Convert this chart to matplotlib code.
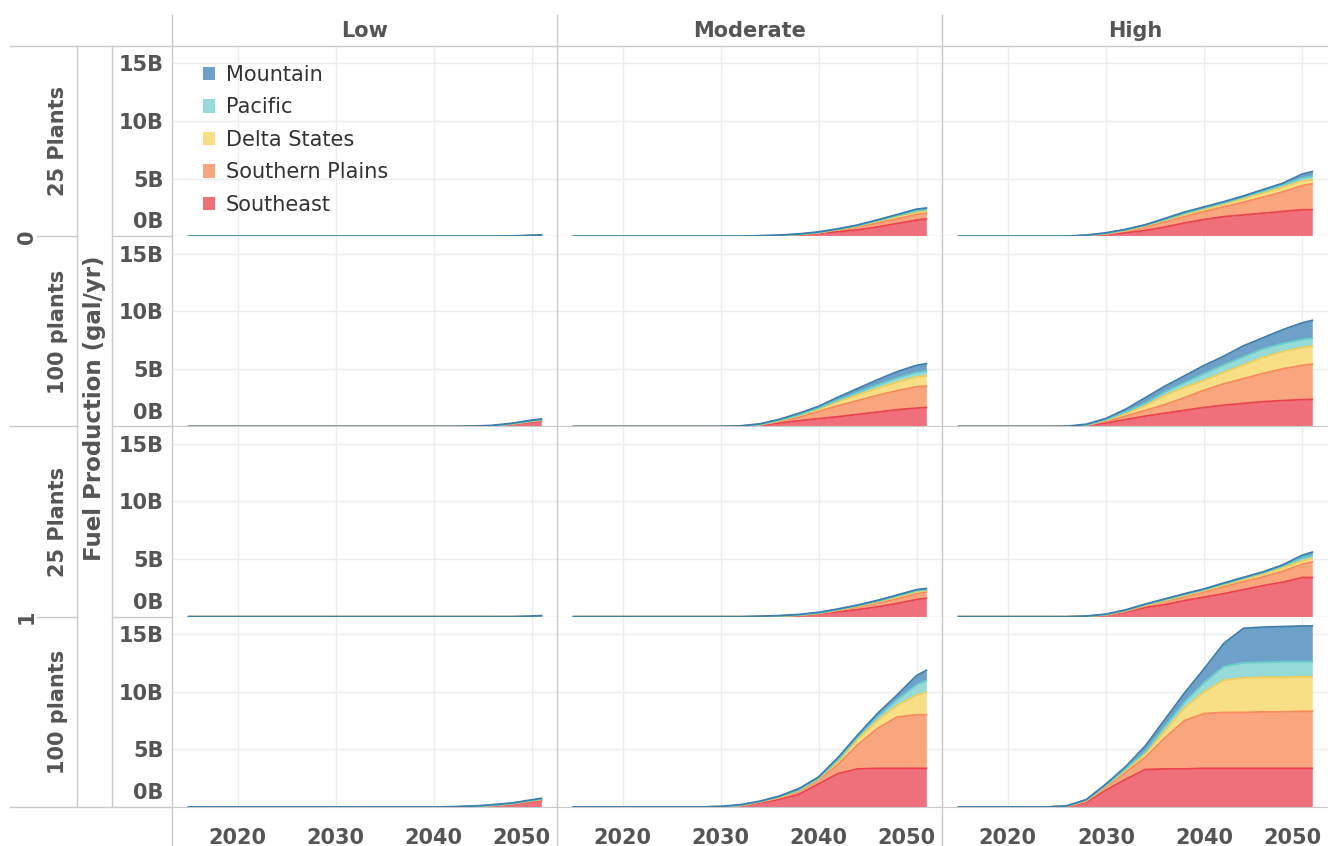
import matplotlib
matplotlib.use("AGG")
import matplotlib.pyplot as plt
import matplotlib.transforms as mtransforms
from matplotlib.lines import Line2D
from matplotlib.patches import Patch
import numpy as np

W, H = 1328, 846

years = [2015, 2024, 2026, 2028, 2030, 2032, 2034, 2036, 2038, 2040, 2042, 2044, 2046, 2048, 2050, 2051]
regions = ["Southeast", "Southern Plains", "Delta States", "Pacific", "Mountain"]
col_names = ["Low", "Moderate", "High"]
outer_names = ["0", "1"]
inner_names = ["25 Plants", "100 plants", "25 Plants", "100 plants"]
y_ticks = [0, 5, 10, 15]
y_labels = ["0B", "5B", "10B", "15B"]
x_ticks = [2020, 2030, 2040, 2050]

# values in billion gal/yr, one list per region: SE, SP, DS, PA, MO
low_0_25 = [
    [0, 0, 0, 0, 0, 0, 0, 0, 0, 0, 0, 0, 0, 0, 0.05, 0.07],
    [0, 0, 0, 0, 0, 0, 0, 0, 0, 0, 0, 0, 0, 0, 0, 0],
    [0, 0, 0, 0, 0, 0, 0, 0, 0, 0, 0, 0, 0, 0, 0, 0],
    [0, 0, 0, 0, 0, 0, 0, 0, 0, 0, 0, 0, 0, 0, 0, 0],
    [0, 0, 0, 0, 0, 0, 0, 0, 0, 0, 0, 0, 0, 0.03, 0.03, 0.05],
]
low_0_100 = [
    [0, 0, 0, 0, 0, 0, 0, 0, 0, 0, 0, 0, 0.05, 0.2, 0.4, 0.5],
    [0, 0, 0, 0, 0, 0, 0, 0, 0, 0, 0, 0, 0, 0.02, 0.05, 0.05],
    [0, 0, 0, 0, 0, 0, 0, 0, 0, 0, 0, 0, 0, 0.01, 0.02, 0.02],
    [0, 0, 0, 0, 0, 0, 0, 0, 0, 0, 0, 0, 0, 0.01, 0.01, 0.01],
    [0, 0, 0, 0, 0, 0, 0, 0, 0, 0, 0, 0.03, 0.05, 0.04, 0.07, 0.07],
]
low_1_25 = [
    [0, 0, 0, 0, 0, 0, 0, 0, 0, 0, 0, 0, 0, 0, 0, 0.05],
    [0, 0, 0, 0, 0, 0, 0, 0, 0, 0, 0, 0, 0, 0, 0, 0],
    [0, 0, 0, 0, 0, 0, 0, 0, 0, 0, 0, 0, 0, 0, 0, 0],
    [0, 0, 0, 0, 0, 0, 0, 0, 0, 0, 0, 0, 0, 0, 0, 0],
    [0, 0, 0, 0, 0, 0, 0, 0, 0, 0, 0, 0, 0, 0, 0.06, 0.05],
]
low_1_100 = [
    [0, 0, 0, 0, 0, 0, 0, 0, 0, 0, 0, 0.03, 0.1, 0.25, 0.48, 0.58],
    [0, 0, 0, 0, 0, 0, 0, 0, 0, 0, 0, 0.01, 0.02, 0.03, 0.04, 0.05],
    [0, 0, 0, 0, 0, 0, 0, 0, 0, 0, 0, 0.01, 0.01, 0.01, 0.03, 0.03],
    [0, 0, 0, 0, 0, 0, 0, 0, 0, 0, 0, 0.01, 0.01, 0.01, 0.02, 0.02],
    [0, 0, 0, 0, 0, 0, 0, 0, 0, 0, 0.03, 0.02, 0.06, 0.05, 0.05, 0.07],
]
mod_0_25 = [
    [0, 0, 0, 0, 0, 0, 0, 0.05, 0.12, 0.25, 0.4, 0.55, 0.8, 1.1, 1.4, 1.5],
    [0, 0, 0, 0, 0, 0, 0, 0.01, 0.03, 0.05, 0.15, 0.25, 0.35, 0.4, 0.5, 0.5],
    [0, 0, 0, 0, 0, 0, 0, 0.01, 0.01, 0.02, 0.05, 0.08, 0.15, 0.2, 0.2, 0.2],
    [0, 0, 0, 0, 0, 0, 0.02, 0.01, 0.01, 0.01, 0.02, 0.04, 0.05, 0.08, 0.1, 0.12],
    [0, 0, 0, 0, 0, 0, 0.03, 0.02, 0.03, 0.05, 0.03, 0.06, 0.07, 0.1, 0.15, 0.13],
]
mod_0_100 = [
    [0, 0, 0, 0, 0, 0.02, 0.08, 0.3, 0.5, 0.68, 0.85, 1.05, 1.25, 1.45, 1.6, 1.65],
    [0, 0, 0, 0, 0, 0.01, 0.04, 0.15, 0.3, 0.62, 0.95, 1.2, 1.45, 1.65, 1.85, 1.85],
    [0, 0, 0, 0, 0, 0, 0.03, 0.05, 0.15, 0.2, 0.35, 0.5, 0.6, 0.75, 0.85, 0.9],
    [0, 0, 0, 0, 0, 0.01, 0.02, 0.05, 0.05, 0.1, 0.15, 0.2, 0.3, 0.35, 0.4, 0.4],
    [0, 0, 0, 0, 0.01, 0.01, 0.06, 0.07, 0.15, 0.15, 0.25, 0.35, 0.45, 0.55, 0.6, 0.65],
]
mod_1_25 = [
    [0, 0, 0, 0, 0, 0, 0, 0.04, 0.1, 0.25, 0.42, 0.62, 0.85, 1.15, 1.5, 1.6],
    [0, 0, 0, 0, 0, 0, 0, 0.01, 0.02, 0.03, 0.13, 0.23, 0.35, 0.4, 0.5, 0.55],
    [0, 0, 0, 0, 0, 0, 0, 0.01, 0.02, 0.02, 0.05, 0.07, 0.1, 0.15, 0.15, 0.1],
    [0, 0, 0, 0, 0, 0, 0.02, 0.01, 0.02, 0.02, 0.03, 0.04, 0.05, 0.08, 0.1, 0.1],
    [0, 0, 0, 0, 0, 0, 0.03, 0.03, 0.04, 0.06, 0.05, 0.06, 0.07, 0.1, 0.1, 0.1],
]
mod_1_100 = [
    [0, 0, 0, 0, 0.02, 0.1, 0.35, 0.65, 1.1, 2.0, 2.9, 3.3, 3.35, 3.35, 3.35, 3.35],
    [0, 0, 0, 0, 0.01, 0.02, 0.07, 0.15, 0.25, 0.35, 0.8, 2.1, 3.45, 4.45, 4.65, 4.65],
    [0, 0, 0, 0, 0, 0.01, 0.03, 0.05, 0.07, 0.1, 0.25, 0.5, 0.7, 1.0, 1.7, 1.95],
    [0, 0, 0, 0, 0.01, 0.01, 0.02, 0.05, 0.05, 0.05, 0.15, 0.2, 0.3, 0.5, 0.9, 1.0],
    [0, 0, 0, 0, 0.01, 0.06, 0.03, 0.05, 0.13, 0.1, 0.2, 0.15, 0.3, 0.4, 0.8, 0.9],
]
high_0_25 = [
    [0, 0, 0, 0.05, 0.15, 0.3, 0.5, 0.8, 1.15, 1.45, 1.7, 1.85, 2.0, 2.15, 2.3, 2.3],
    [0, 0, 0, 0.01, 0.05, 0.15, 0.3, 0.45, 0.55, 0.7, 0.85, 1.1, 1.4, 1.7, 2.1, 2.25],
    [0, 0, 0, 0.01, 0.02, 0.05, 0.1, 0.15, 0.2, 0.2, 0.25, 0.3, 0.35, 0.4, 0.4, 0.35],
    [0, 0, 0, 0.01, 0.03, 0.05, 0.05, 0.05, 0.08, 0.1, 0.1, 0.15, 0.15, 0.2, 0.25, 0.3],
    [0, 0, 0, 0.02, 0.05, 0.05, 0.05, 0.1, 0.12, 0.1, 0.1, 0.1, 0.15, 0.15, 0.35, 0.4],
]
high_0_100 = [
    [0, 0, 0, 0.08, 0.3, 0.6, 0.9, 1.15, 1.4, 1.65, 1.85, 2.0, 2.15, 2.25, 2.33, 2.35],
    [0, 0, 0, 0.02, 0.15, 0.3, 0.5, 0.75, 1.1, 1.5, 1.85, 2.15, 2.45, 2.75, 2.97, 3.05],
    [0, 0, 0, 0.02, 0.1, 0.2, 0.4, 0.8, 0.9, 0.85, 1.0, 1.2, 1.4, 1.5, 1.55, 1.55],
    [0, 0, 0, 0.01, 0.05, 0.15, 0.2, 0.3, 0.4, 0.6, 0.65, 0.7, 0.75, 0.7, 0.7, 0.7],
    [0, 0, 0.02, 0.07, 0.1, 0.25, 0.5, 0.5, 0.6, 0.7, 0.75, 0.95, 0.95, 1.2, 1.45, 1.55],
]
high_1_25 = [
    [0, 0, 0, 0.03, 0.12, 0.4, 0.8, 1.05, 1.4, 1.7, 2.0, 2.35, 2.7, 3.0, 3.4, 3.4],
    [0, 0, 0, 0.01, 0.03, 0.08, 0.15, 0.3, 0.35, 0.45, 0.6, 0.7, 0.75, 0.95, 1.15, 1.35],
    [0, 0, 0, 0.01, 0.02, 0.04, 0.05, 0.07, 0.1, 0.12, 0.15, 0.17, 0.25, 0.3, 0.3, 0.3],
    [0, 0, 0, 0, 0.02, 0.03, 0.05, 0.06, 0.07, 0.08, 0.1, 0.11, 0.12, 0.15, 0.25, 0.25],
    [0, 0, 0, 0.01, 0.04, 0.05, 0.05, 0.07, 0.08, 0.07, 0.08, 0.09, 0.08, 0.1, 0.25, 0.3],
]
high_1_100 = [
    [0, 0, 0.05, 0.4, 1.45, 2.4, 3.25, 3.3, 3.3, 3.35, 3.35, 3.35, 3.35, 3.35, 3.35, 3.35],
    [0, 0, 0.02, 0.1, 0.3, 0.6, 1.05, 2.7, 4.2, 4.75, 4.85, 4.85, 4.9, 4.9, 4.95, 4.95],
    [0, 0, 0.01, 0.05, 0.1, 0.2, 0.3, 0.6, 1.1, 1.9, 2.8, 3.0, 3.0, 3.0, 3.0, 3.0],
    [0, 0, 0.01, 0.05, 0.05, 0.1, 0.2, 0.4, 0.5, 0.8, 1.2, 1.3, 1.3, 1.35, 1.3, 1.3],
    [0, 0, 0.01, 0.05, 0.1, 0.2, 0.5, 0.6, 0.8, 1.2, 2.0, 3.0, 3.05, 3.05, 3.1, 3.1],
]

panels = [
    [low_0_25, mod_0_25, high_0_25],
    [low_0_100, mod_0_100, high_0_100],
    [low_1_25, mod_1_25, high_1_25],
    [low_1_100, mod_1_100, high_1_100],
]

fills = ["#ef6f7b", "#f9a57d", "#f8de85", "#96dbd7", "#6da1c9"]
edges = ["#e9434f", "#f7895c", "#f2cd57", "#69cdc8", "#3f7daa"]

plt.rcParams["font.family"] = ["DejaVu Sans"]
txt = "#555555"
sep = "#c9c9c9"

fig = plt.figure(figsize=(W / 100, H / 100), dpi=100)

col_x = [172, 557, 942]
col_w = [385, 385, 386]
row_top = 46
row_h = 190.25


def fx(x):
    return x / W


def fy(y):
    return 1 - y / H


for r in range(4):
    for c in range(3):
        y0 = row_top + r * row_h
        ax = fig.add_axes([fx(col_x[c]), fy(y0 + row_h), col_w[c] / W, row_h / H])
        ax.set_xlim(2013.3, 2052.6)
        ax.set_ylim(0, 16.5)
        ax.set_xticks(x_ticks)
        ax.set_yticks(y_ticks)
        ax.grid(True, color="#ededed", lw=1)
        ax.set_axisbelow(True)
        for s in ["top", "left", "right"]:
            ax.spines[s].set_visible(False)
        ax.spines["bottom"].set_color(sep)
        ax.tick_params(length=0)

        vals = np.array(panels[r][c])
        cum = np.cumsum(vals, axis=0)
        lower = np.zeros(len(years))
        for i in range(len(regions)):
            ax.fill_between(years, lower, cum[i], color=fills[i], lw=0, zorder=2)
            lower = cum[i]
        for i in range(len(regions)):
            ax.plot(years, cum[i], color=edges[i], lw=1.3, zorder=3)

        if c == 0:
            ax.set_yticklabels(y_labels, fontsize=15, fontweight="bold", color=txt)
            ax.tick_params(axis="y", pad=6)
            zero_lab = ax.get_yticklabels()[0]
            zero_lab.set_va("bottom")
            zero_lab.set_transform(zero_lab.get_transform() +
                                   mtransforms.ScaledTranslation(0, 0.04, fig.dpi_scale_trans))
        else:
            ax.tick_params(labelleft=False)
        if r == 3:
            ax.set_xticklabels([str(t) for t in x_ticks], fontsize=15,
                               fontweight="bold", color=txt)
            ax.tick_params(axis="x", pad=15)
            last = ax.get_xticklabels()[-1]
            last.set_transform(last.get_transform() +
                               mtransforms.ScaledTranslation(-0.1, 0, fig.dpi_scale_trans))
        else:
            ax.tick_params(labelbottom=False)

        if r == 0 and c == 0:
            handles = [Patch(facecolor=fills[i], edgecolor="none") for i in range(4, -1, -1)]
            labels = [regions[i] for i in range(4, -1, -1)]
            ax.legend(handles, labels, loc="upper left", bbox_to_anchor=(0.058, 0.945),
                      frameon=False, fontsize=15, handlelength=0.6, handleheight=0.6,
                      handletextpad=0.5, labelspacing=0.6, borderaxespad=0,
                      labelcolor="#333333")

# header texts
for c, name in enumerate(col_names):
    fig.text(fx(col_x[c] + col_w[c] / 2), fy(31), name, ha="center", va="center",
             fontsize=15, fontweight="bold", color=txt)
for r, name in enumerate(inner_names):
    fig.text(fx(58), fy(row_top + (r + 0.5) * row_h), name, ha="center", va="center",
             rotation=90, fontsize=15, fontweight="bold", color=txt)
for g, name in enumerate(outer_names):
    fig.text(fx(27), fy(row_top + (2 * g + 1) * row_h), name, ha="center", va="center",
             rotation=90, fontsize=15, fontweight="bold", color=txt)
fig.text(fx(95), fy(408), "Fuel Production (gal/yr)", ha="center", va="center",
         rotation=90, fontsize=16.5, fontweight="bold", color=txt)


# separator lines of the table layout
def hline(y, x0, x1):
    fig.add_artist(Line2D([fx(x0), fx(x1)], [fy(y), fy(y)], color=sep, lw=1))


def vline(x, y0, y1):
    fig.add_artist(Line2D([fx(x), fx(x)], [fy(y0), fy(y1)], color=sep, lw=1))


hline(row_top, 10, W)
bottom = row_top + 4 * row_h
hline(bottom, 10, 172)
for r in range(1, 4):
    y = row_top + r * row_h
    hline(y, 112, 172)
    if r == 2:
        hline(y, 10, 77)
    else:
        hline(y, 37, 77)
vline(77, row_top, bottom)
vline(112, row_top, bottom)
for x in col_x:
    vline(x, 15, H)

fig.savefig("out.png", dpi=100)
